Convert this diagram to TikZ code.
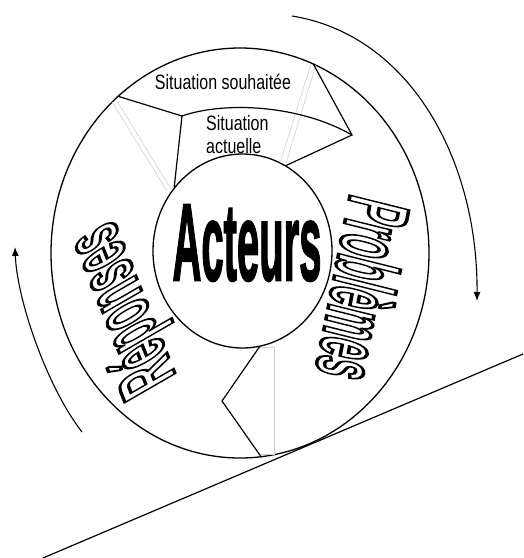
\documentclass[tikz,border=0pt]{standalone}
\usepackage{fontspec}
\setmainfont{Liberation Sans}
\newfontfamily\heavyfont{Liberation Sans Bold}[FakeBold=2]
\newfontfamily\outlinefont{Liberation Sans Bold}
\newcommand\hollowtext[1]{\special{pdf:literal direct 2 Tr 1.6 w 1 g 0 G}#1\special{pdf:literal direct 0 Tr 1 w 0 g 0 G}}
\usetikzlibrary{shapes.geometric,arrows.meta}
\tikzset{
  ring/.style={draw, ellipse, line width=1.3pt, inner sep=0pt},
  edge/.style={line width=1.2pt, line join=miter},
  faint/.style={draw=black!18, line width=0.6pt},
  flow/.style={line width=1.1pt, -{Latex[length=9pt,width=7pt]}},
  lbl/.style={font=\fontsize{16}{17.7}\selectfont, yscale=1.3, inner sep=0pt},
  hollow/.style={font=\outlinefont\fontsize{40}{40}\selectfont, inner sep=0pt},
  bigword/.style={font=\heavyfont\fontsize{50}{50}\selectfont, xscale=0.8, yscale=2.2, inner sep=0pt},
}
\begin{document}
\begin{tikzpicture}[x=1pt,y=-1pt]
\useasboundingbox (0,0) rectangle (524,558);
\fill[white] (0,0) rectangle (524,558);

% outlined side words (drawn first)
\node[hollow, cm={-0.170,-0.874,2.134,-0.532,(0,0)}] (prob) at (364,290) {\hollowtext{Problèmes}};
\node[hollow, cm={-0.333,0.825,-1.819,-1.05,(0,0)}] (rep) at (125,308) {\hollowtext{Réponses}};

% rings
\node[ring, minimum width=378pt, minimum height=410pt] (outer) at (240,253) {};
\node[ring, minimum width=179pt, minimum height=194pt] (inner) at (242.5,251) {};

% faint guide lines
\draw[faint] (112,102) -- (167,191);
\draw[faint] (117,101) -- (171,189);
\draw[faint] (311,64) -- (280,163);
\draw[faint] (316,65) -- (286,163);
\draw[faint] (258,347) -- (274,347) -- (274,454) -- (261,454);

% chevron segments
\coordinate (nl) at (182,116);
\coordinate (nr) at (352,135);
\coordinate (nb) at (222,401);
\draw[edge] (outer.128.6) -- (nl) -- (inner.137.4);
\draw[edge] (outer.69) -- (nr) -- (inner.63.7);
\draw[edge] (nl) .. controls (225,101) and (300,105) .. (nr);
\draw[edge] (inner.-80.9) -- (nb) -- (outer.-84.4);

% cycle arrows
\coordinate (a1s) at (292,16);
\coordinate (a1e) at (477,301);
\draw[flow] (a1s) .. controls (410,35) and (478,160) .. (a1e);
\coordinate (a2s) at (82,432);
\coordinate (a2e) at (15,247);
\draw[flow] (a2s) .. controls (47,387) and (17,300) .. (a2e);

% slope
\coordinate (g1) at (43,558);
\coordinate (g2) at (523,354);
\draw[line width=1.2pt] (g1) -- (g2);

% texts
\node[lbl] (souh) at (223,82) {Situation souhaitée};
\node[lbl, align=left, anchor=north west] (actu) at (206,115) {Situation\\actuelle};
\node[bigword] (acteurs) at (247,243) {Acteurs};
\end{tikzpicture}
\end{document}
